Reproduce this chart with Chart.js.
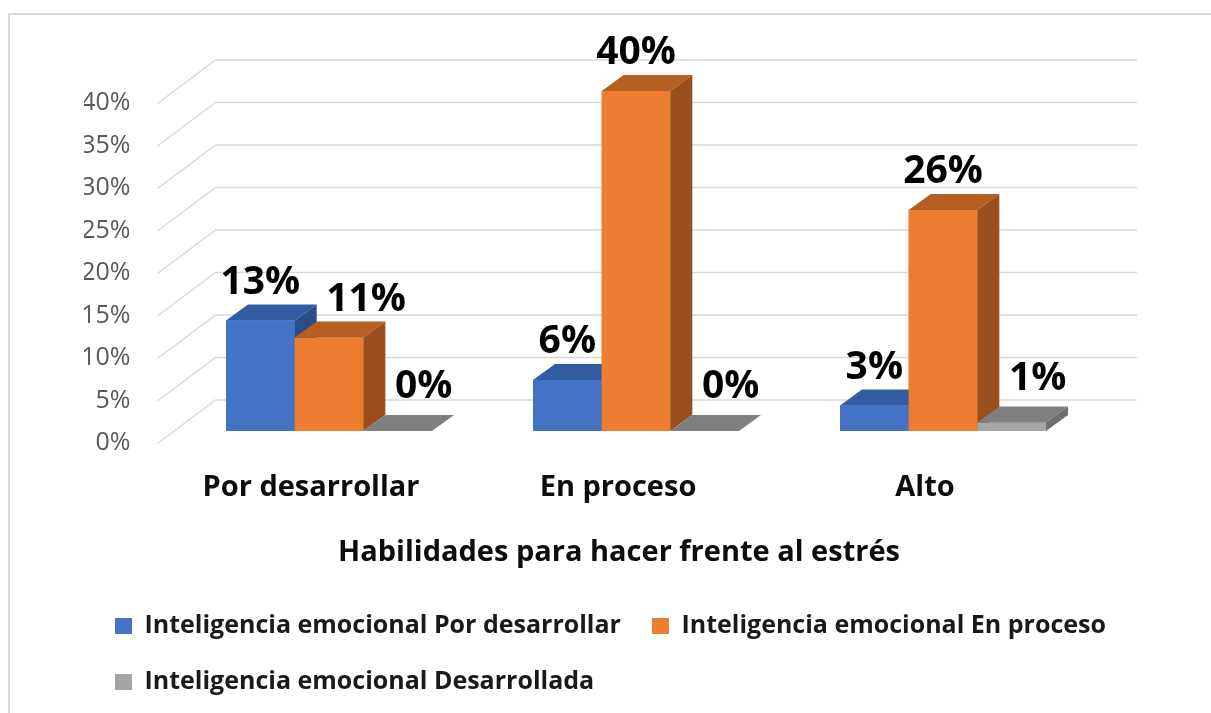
<!DOCTYPE html>
<html>
<head>
<meta charset="utf-8">
<script src="https://cdn.jsdelivr.net/npm/chart.js@4/dist/chart.umd.min.js"></script>
<style>
  body { margin: 0; background: #fff; overflow: hidden; }
</style>
</head>
<body>
<canvas id="grafico" width="1211" height="713"></canvas>
<script>
// datos
const categorias = ["Por desarrollar", "En proceso", "Alto"];
const nombresSeries = [
  "Inteligencia emocional Por desarrollar",
  "Inteligencia emocional En proceso",
  "Inteligencia emocional Desarrollada"
];
const porDesarrollar = [13, 6, 3];
const enProceso = [11, 40, 26];
const desarrollada = [0, 0, 1];
const ejeYMax = 40;
const ejeYPaso = 5;
const tituloX = "Habilidades para hacer frente al estrés";

const colorFrente = ["#4472C4", "#ED7D31", "#A5A5A5"];
const colorArriba = ["#335CA3", "#B65F22", "#7F7F7F"];
const colorLado = ["#2B4D8B", "#9A4F1C", "#6E6E6E"];

const fuente = "'Open Sans', 'Liberation Sans', sans-serif";
const DX = 22, DY = 16;  // profundidad de las barras

// desplazamiento manual de algunas etiquetas (como en el original)
function ajusteEtiqueta(ds, i) {
  if (ds === 2) return { x: 26, y: -6 };
  if (ds === 1 && i === 0) return { x: 37, y: 0 };
  return { x: 0, y: 0 };
}

function poligono(ctx, puntos, color) {
  ctx.beginPath();
  ctx.moveTo(puntos[0][0], puntos[0][1]);
  for (let k = 1; k < puntos.length; k++) ctx.lineTo(puntos[k][0], puntos[k][1]);
  ctx.closePath();
  ctx.fillStyle = color;
  ctx.fill();
}

const efecto3D = {
  id: 'efecto3D',
  beforeDraw(chart) {
    const ctx = chart.ctx;
    ctx.save();
    ctx.strokeStyle = '#d9d9d9';
    ctx.lineWidth = 2;
    ctx.beginPath();
    ctx.moveTo(9, 713);
    ctx.lineTo(9, 14);
    ctx.lineTo(1211, 14);
    ctx.stroke();
    ctx.restore();
  },
  beforeDatasetsDraw(chart) {
    // lineas del piso / pared del fondo
    const ctx = chart.ctx;
    const y = chart.scales.y;
    const area = chart.chartArea;
    ctx.save();
    ctx.strokeStyle = '#d9d9d9';
    ctx.lineWidth = 1.5;
    y.ticks.forEach(t => {
      const py = y.getPixelForValue(t.value);
      ctx.beginPath();
      ctx.moveTo(area.left - 18, py + 12.5);
      ctx.lineTo(area.left + 40, py - 31);
      ctx.lineTo(area.right + 40.5, py - 31);
      ctx.stroke();
    });
    ctx.restore();
  },
  afterDatasetsDraw(chart) {
    const ctx = chart.ctx;
    const n = chart.data.labels.length;
    ctx.save();
    for (let i = 0; i < n; i++) {
      chart.data.datasets.forEach((d, ds) => {
        const b = chart.getDatasetMeta(ds).data[i];
        const x0 = b.x - b.width / 2, x1 = b.x + b.width / 2;
        const top = b.y, base = b.base;
        poligono(ctx, [[x0, top], [x1, top], [x1, base], [x0, base]], colorFrente[ds]);
        poligono(ctx, [[x0, top], [x1, top], [x1 + DX, top - DY], [x0 + DX, top - DY]], colorArriba[ds]);
        poligono(ctx, [[x1, top], [x1 + DX, top - DY], [x1 + DX, base - DY], [x1, base]], colorLado[ds]);
      });
    }
    // etiquetas de datos
    ctx.fillStyle = '#000';
    ctx.font = "bold 39px " + fuente;
    ctx.textAlign = 'center';
    ctx.textBaseline = 'alphabetic';
    chart.data.datasets.forEach((d, ds) => {
      chart.getDatasetMeta(ds).data.forEach((b, i) => {
        const aj = ajusteEtiqueta(ds, i);
        ctx.fillText(d.data[i] + '%', b.x + aj.x, b.y - DY - 11 + aj.y);
      });
    });
    ctx.restore();
  },
  afterDraw(chart) {
    // titulo del eje x, alineado con el frente del piso
    const ctx = chart.ctx;
    const area = chart.chartArea;
    ctx.save();
    ctx.fillStyle = '#0d0d0d';
    ctx.font = "bold 29px " + fuente;
    ctx.textAlign = 'center';
    ctx.textBaseline = 'middle';
    ctx.fillText(tituloX, (area.left + area.right) / 2 - 17, area.bottom + 122);
    ctx.restore();
  }
};

const grafico = new Chart(document.getElementById('grafico'), {
  type: 'bar',
  data: {
    labels: categorias,
    datasets: [
      { label: nombresSeries[0], data: porDesarrollar, backgroundColor: colorFrente[0], borderWidth: 0 },
      { label: nombresSeries[1], data: enProceso, backgroundColor: colorFrente[1], borderWidth: 0 },
      { label: nombresSeries[2], data: desarrollada, backgroundColor: colorFrente[2], borderWidth: 0 }
    ]
  },
  options: {
    responsive: false,
    animation: false,
    devicePixelRatio: 1,
    categoryPercentage: 0.671,
    barPercentage: 1,
    layout: { padding: { top: 91, left: 84, right: 5, bottom: 8.5 } },
    plugins: {
      tooltip: { enabled: false },
      legend: {
        position: 'bottom',
        align: 'start',
        labels: {
          boxWidth: 17,
          boxHeight: 16,
          padding: 31,
          color: '#1a1a1a',
          font: { family: fuente, size: 25, weight: 'bold' }
        }
      }
    },
    scales: {
      x: {
        grid: { display: false, drawTicks: false },
        border: { display: false },
        ticks: {
          color: '#0d0d0d',
          padding: 39.6,
          labelOffset: -18,
          font: { family: fuente, size: 29, weight: 'bold' }
        },
        afterFit(s) { s.height = 151.5; }
      },
      y: {
        min: 0,
        max: ejeYMax,
        grid: { display: false, drawTicks: false },
        border: { display: false },
        ticks: {
          stepSize: ejeYPaso,
          color: '#595959',
          padding: 45,
          labelOffset: 12,
          font: { family: fuente, size: 25 },
          callback: v => v + '%'
        },
        afterFit(s) { s.width = 91.5; }
      },
      derecha: {
        type: 'linear',
        position: 'right',
        grid: { display: false, drawTicks: false },
        border: { display: false },
        ticks: { display: false },
        afterFit(s) { s.width = 109.5; }
      }
    }
  },
  plugins: [efecto3D]
});
</script>
</body>
</html>
